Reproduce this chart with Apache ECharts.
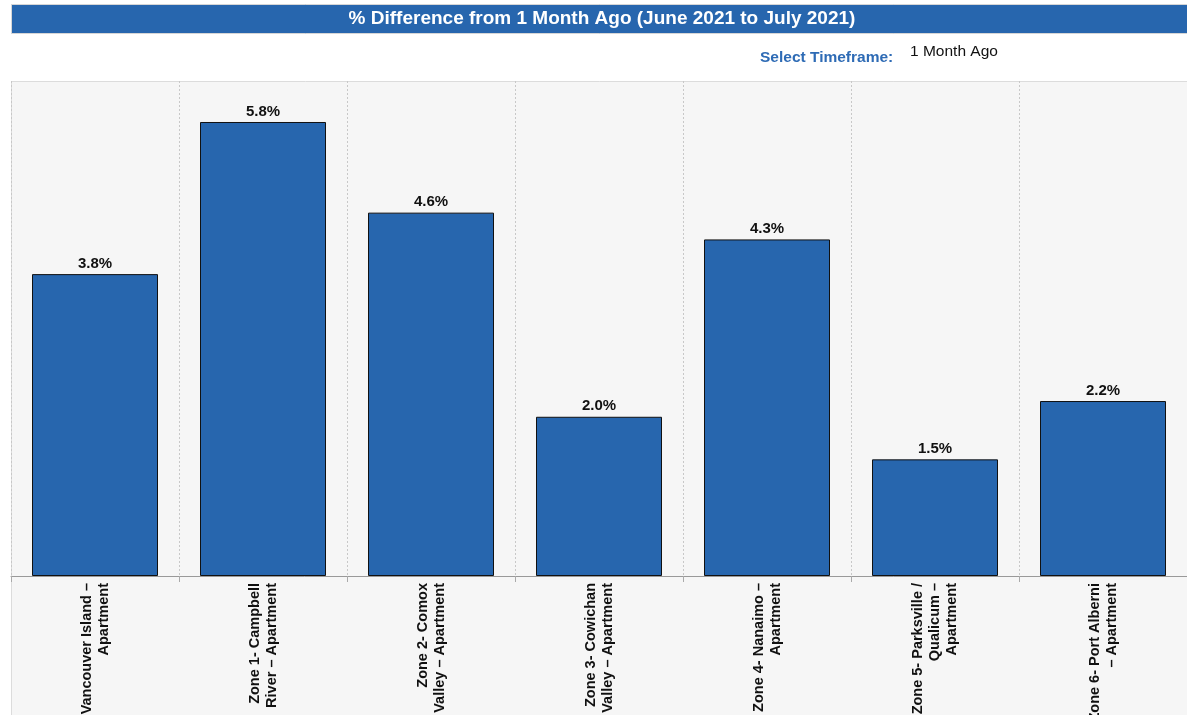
<!DOCTYPE html>
<html>
<head>
<meta charset="utf-8">
<script src="https://cdn.jsdelivr.net/npm/echarts@6/dist/echarts.min.js"></script>
<style>
html,body{margin:0;padding:0;background:#fff;}
#chart{width:1187px;height:715px;}
</style>
</head>
<body>
<div id="chart"></div>
<script>
const categories = [
  "Vancouver Island –\nApartment",
  "Zone 1- Campbell\nRiver – Apartment",
  "Zone 2- Comox\nValley – Apartment",
  "Zone 3- Cowichan\nValley – Apartment",
  "Zone 4- Nanaimo –\nApartment",
  "Zone 5- Parksville /\nQualicum –\nApartment",
  "Zone 6- Port Alberni\n– Apartment"
];
const values = [3.83, 5.76, 4.61, 2.02, 4.27, 1.48, 2.22];
const titleText = "% Difference from 1 Month Ago (June 2021 to July 2021)";
const selectLabel = "Select Timeframe:";
const selectValue = "1 Month Ago";

const chart = echarts.init(document.getElementById('chart'), null, {renderer: 'canvas'});
const font = '"Liberation Sans", Arial, Helvetica, sans-serif';
chart.setOption({
  backgroundColor: '#ffffff',
  animation: false,
  graphic: [
    {type: 'rect', shape: {x: 11.5, y: 81.5, width: 1180, height: 640}, style: {fill: '#f6f6f6', stroke: '#dcdcdc', lineWidth: 1}, z: -10},
    {type: 'rect', shape: {x: 11.5, y: 4.5, width: 1180, height: 29}, style: {fill: '#2766ae', stroke: '#d6d6d6', lineWidth: 1}, z: -10},
    {type: 'text', x: 602, y: 19, style: {text: titleText, fill: '#ffffff', font: 'bold 19px ' + font, textAlign: 'center', textVerticalAlign: 'middle'}},
    {type: 'text', x: 760, y: 58, style: {text: selectLabel, fill: '#2e6bb5', font: 'bold 15.5px ' + font, textAlign: 'left', textVerticalAlign: 'middle'}},
    {type: 'text', x: 910, y: 52, style: {text: selectValue, fill: '#111111', font: '15.5px ' + font, textAlign: 'left', textVerticalAlign: 'middle'}}
  ],
  grid: {left: 11, right: 0, top: 81, bottom: 139, containLabel: false, outerBoundsMode: 'none'},
  xAxis: {
    type: 'category',
    data: categories,
    boundaryGap: true,
    axisLine: {show: true, lineStyle: {color: '#999999', width: 1}},
    axisTick: {show: true, length: 6, lineStyle: {color: '#aaaaaa'}},
    splitLine: {show: true, lineStyle: {color: '#c8c8c8', type: [2, 2], width: 1}},
    axisLabel: {
      rotate: 90, interval: 0, margin: 7, hideOverlap: false,
      color: '#111111', fontFamily: font, fontWeight: 'bold', fontSize: 14.5, lineHeight: 17
    }
  },
  yAxis: {
    type: 'value', min: 0, max: 6.28,
    show: false,
    splitLine: {show: false}
  },
  series: [{
    type: 'bar',
    data: values,
    barWidth: 126,
    itemStyle: {color: '#2766ae', borderColor: '#111111', borderWidth: 1},
    label: {
      show: true, position: 'top', distance: 3,
      formatter: p => p.value.toFixed(1) + '%',
      color: '#111111', fontFamily: font, fontWeight: 'bold', fontSize: 15
    }
  }]
});
</script>
</body>
</html>
